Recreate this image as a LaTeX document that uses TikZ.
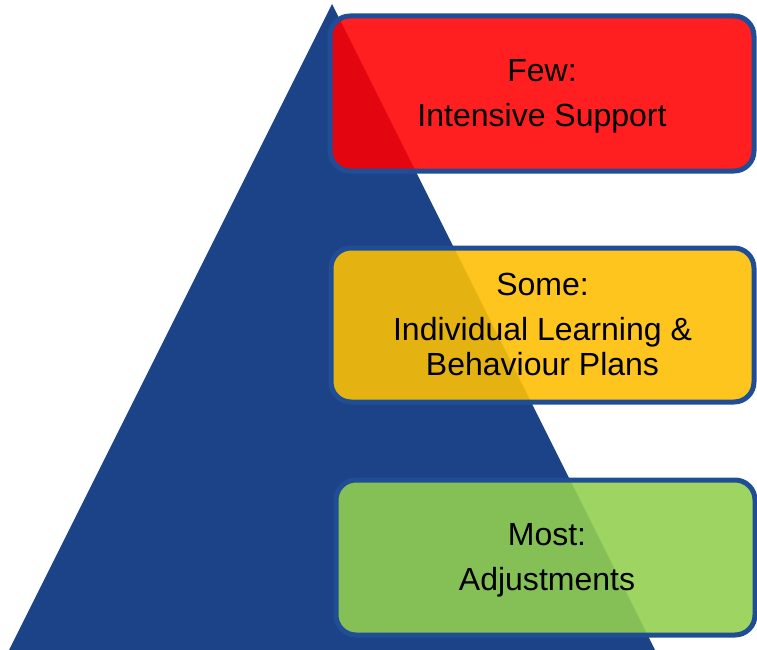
\documentclass[tikz,border=0pt]{standalone}
\usepackage{fontspec}
\setmainfont{Liberation Sans}

\definecolor{pyramid}{RGB}{28,67,136}
\definecolor{tieredge}{RGB}{31,78,150}
\definecolor{fewred}{RGB}{255,30,32}
\definecolor{fewdark}{RGB}{227,6,17}
\definecolor{someyellow}{RGB}{253,197,30}
\definecolor{somedark}{RGB}{229,179,17}
\definecolor{mostgreen}{RGB}{158,212,98}
\definecolor{mostdark}{RGB}{132,192,85}

\tikzset{
  tier/.style={rounded corners=20bp},
  tierline/.style={tier, draw=tieredge, line width=5bp},
  tiertext/.style={align=center, font=\fontsize{32bp}{35bp}\selectfont}
}

\begin{document}
\begin{tikzpicture}[x=1bp, y=-1bp]
  \useasboundingbox (0,0) rectangle (757,650);
  \coordinate (apex) at (332,4);
  \coordinate (left) at (9,650);
  \coordinate (right) at (655,650);
  \fill[pyramid] (apex) -- (left) -- (right) -- cycle;
  % the boxes, darker where they lie over the pyramid
  \fill[tier, fewred] (330,16) rectangle (754,171);
  \fill[tier, someyellow] (331,248) rectangle (754,402);
  \fill[tier, mostgreen] (336,480) rectangle (755,635);
  \begin{scope}
    \clip (apex) -- (left) -- (right) -- cycle;
    \fill[tier, fewdark] (330,16) rectangle (754,171);
    \fill[tier, somedark] (331,248) rectangle (754,402);
    \fill[tier, mostdark] (336,480) rectangle (755,635);
  \end{scope}
  \draw[tierline] (330,16) rectangle (754,171);
  \draw[tierline] (331,248) rectangle (754,402);
  \draw[tierline] (336,480) rectangle (755,635);
  \node[tiertext] (few) at (542,96) {Few:\\[10bp]Intensive Support};
  \node[tiertext] (some) at (542.5,324.5) {Some:\\[10bp]Individual Learning \&\\Behaviour Plans};
  \node[tiertext] (most) at (547,560) {Most:\\[10bp]Adjustments};
\end{tikzpicture}
\end{document}
